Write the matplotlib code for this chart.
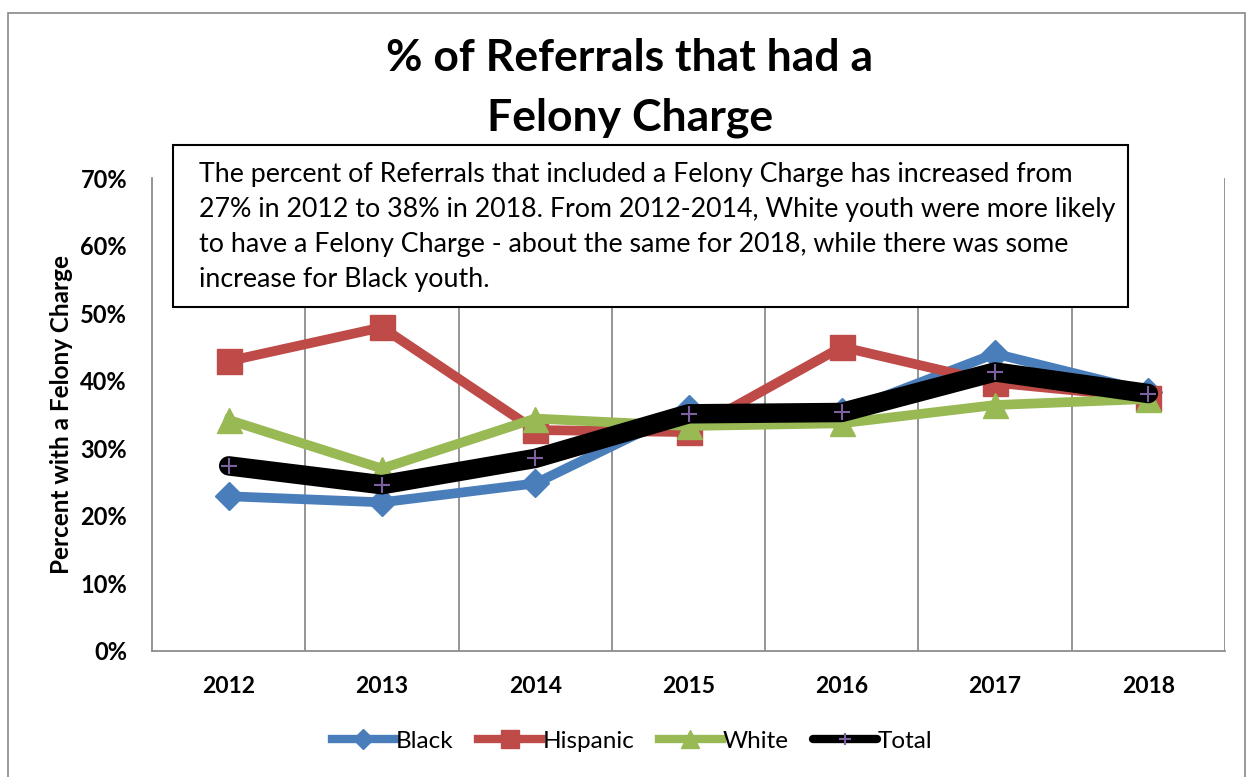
import matplotlib
matplotlib.use("Agg")
import matplotlib.pyplot as plt
from matplotlib.patches import Rectangle

plt.rcParams['font.family'] = ['Lato', 'DejaVu Sans']

years = ["2012", "2013", "2014", "2015", "2016", "2017", "2018"]
black = [22.9, 22.0, 24.8, 35.8, 35.3, 44.0, 38.4]
hispanic = [42.9, 47.9, 32.7, 32.4, 45.0, 39.7, 37.5]
white = [34.2, 27.0, 34.4, 33.3, 33.7, 36.4, 37.3]
total = [27.4, 24.6, 28.5, 35.1, 35.3, 41.3, 38.1]
yticks = [0, 10, 20, 30, 40, 50, 60, 70]

fig = plt.figure(figsize=(12.53, 7.77), dpi=100)
fig.patches.append(Rectangle((8/1253, -0.01), (1245-8)/1253, 772/777, transform=fig.transFigure,
                             fill=False, edgecolor='#888888', linewidth=1.2))

ax = fig.add_axes([152/1253, 1-651/777, (1225-152)/1253, (651-178)/777])
x = list(range(len(years)))

ax.plot(x, black, color='#4a7ebb', lw=7, marker='D', markersize=14, label='Black', zorder=3)
ax.plot(x, hispanic, color='#be4b48', lw=7, marker='s', markersize=18, label='Hispanic', zorder=3)
ax.plot(x, white, color='#98b954', lw=7, marker='^', markersize=18, label='White', zorder=3)
ax.plot(x, total, color='black', lw=14, marker='+', markersize=12, markeredgewidth=1.5,
        markeredgecolor='#7d60a0', label='Total', zorder=4, solid_capstyle='round')

ax.set_xlim(-0.5, len(years) - 0.5)
ax.set_ylim(0, 70)
ax.set_yticks(yticks)
ax.set_yticklabels([f"{v}%" for v in yticks], fontsize=17, fontweight='bold')
ax.set_xticks(x)
ax.set_xticklabels(years, fontsize=16.5, fontweight='bold')
ax.tick_params(axis='y', length=0, pad=18)
ax.tick_params(axis='x', length=0, pad=18)
for b in [i + 0.5 for i in range(len(years))]:
    ax.axvline(b, color='#8c8c8c', lw=1.3, zorder=1)
for s in ['top', 'right']:
    ax.spines[s].set_visible(False)
for s in ['left', 'bottom']:
    ax.spines[s].set_color('#8c8c8c')
    ax.spines[s].set_linewidth(1.3)

ax.set_ylabel("Percent with a Felony Charge", fontsize=17.5, fontweight='bold', labelpad=5)

fig.text(630/1253, 1-88/777, "% of Referrals that had a\nFelony Charge", ha='center', va='center',
         fontsize=32, fontweight='bold', linespacing=1.62)

fig.patches.append(Rectangle((173/1253, 1-307/777), (1128-173)/1253, (307-145)/777,
                             transform=fig.transFigure, facecolor='white', edgecolor='black',
                             linewidth=1.5, zorder=5))
fig.text(199/1253, 1-227/777,
         "The percent of Referrals that included a Felony Charge has increased from\n"
         "27% in 2012 to 38% in 2018. From 2012-2014, White youth were more likely\n"
         "to have a Felony Charge - about the same for 2018, while there was some\n"
         "increase for Black youth.",
         ha='left', va='center', fontsize=19.3, linespacing=1.49, zorder=6)

leg = fig.legend(loc='center', bbox_to_anchor=(632/1253, 1-741/777), ncol=4, frameon=False,
                 fontsize=17.5, handlelength=2.6, handletextpad=0.05, columnspacing=1.0, markerscale=0.7)
for h in leg.legend_handles:
    h.set_linewidth(6)

fig.savefig("out.png", dpi=100)
